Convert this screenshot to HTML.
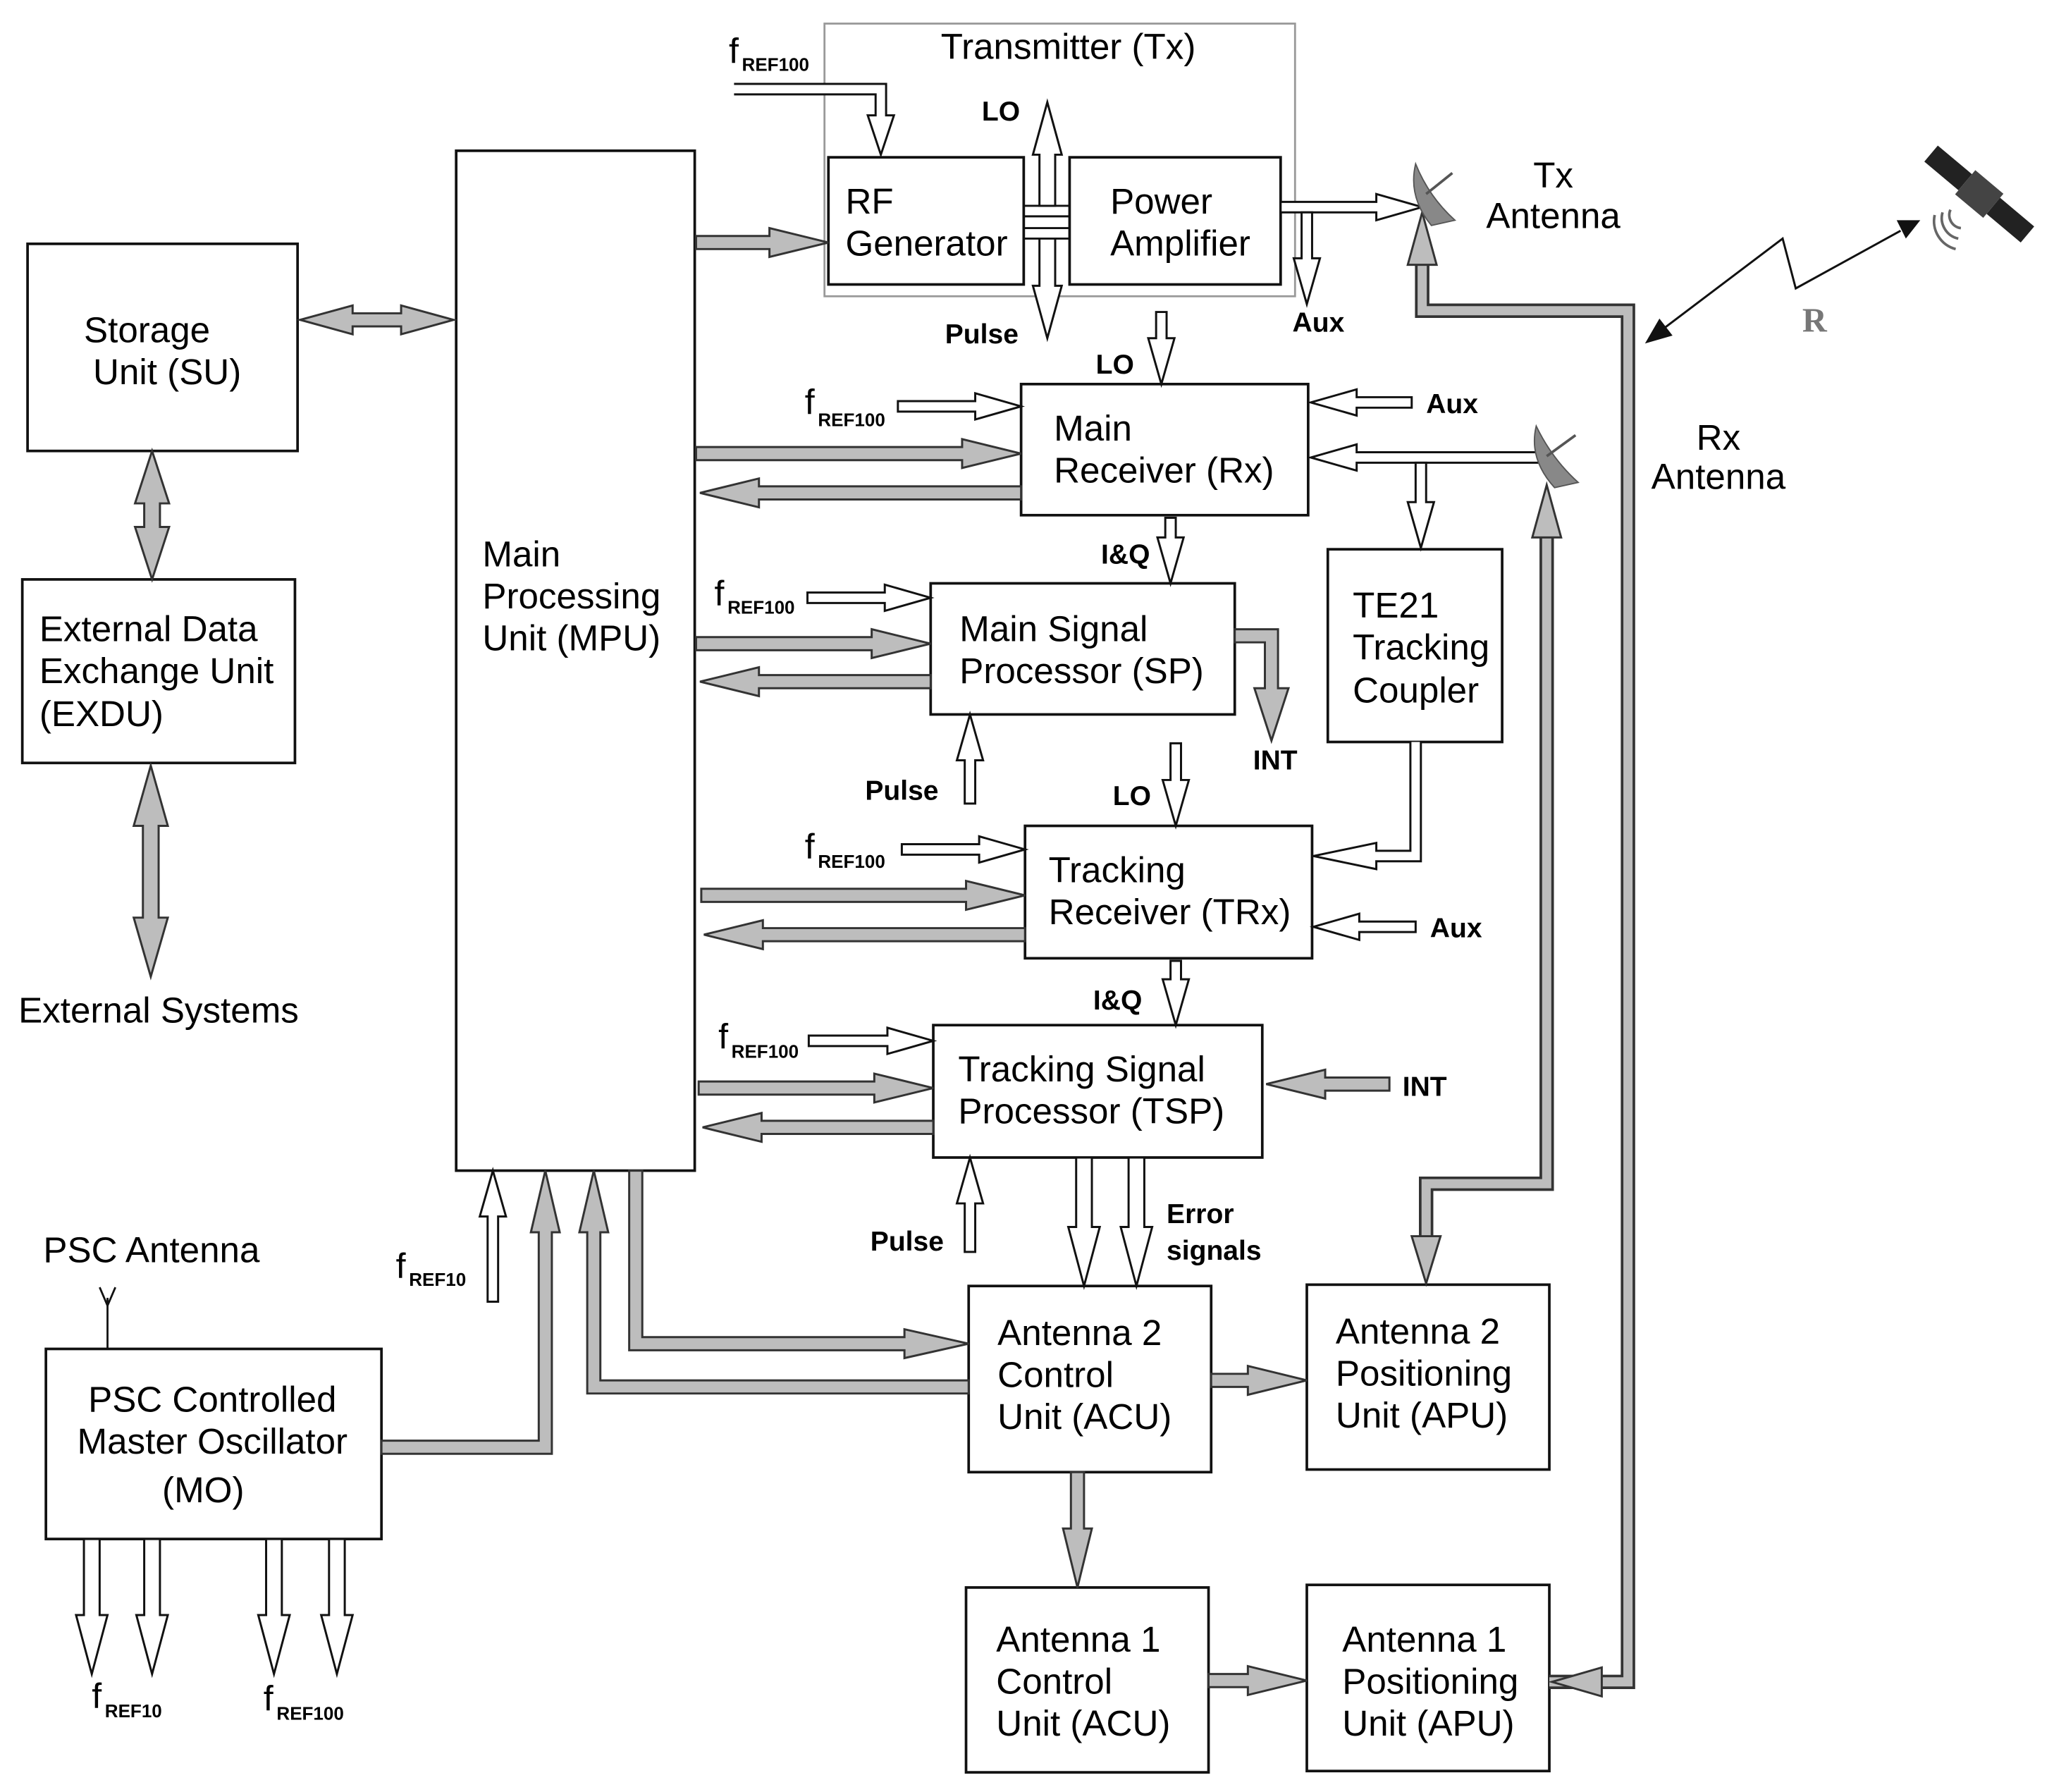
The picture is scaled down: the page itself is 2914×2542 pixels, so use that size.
<!DOCTYPE html>
<html><head><meta charset="utf-8"><style>
html,body{margin:0;padding:0;background:#fff}
svg{display:block}
text{font-family:"Liberation Sans",sans-serif;font-size:27.5px;fill:#000}
.b{font-weight:bold;font-size:21px}
.s{font-weight:bold;font-size:14px}
.f{font-size:27px}
.bx{fill:#fff;stroke:#111;stroke-width:2}
.h{fill:#fff;stroke:#111;stroke-width:1.6;stroke-linejoin:miter}
.g{fill:#bdbdbd;stroke:#333;stroke-width:1.6}
</style></head><body>
<svg width="2914" height="2542" viewBox="0 0 1567 1367" xmlns="http://www.w3.org/2000/svg">
<rect x="629" y="18" width="359" height="208" fill="none" stroke="#999" stroke-width="1.5"/>
<rect class="bx" x="632" y="120" width="149" height="97"/>
<rect class="bx" x="816" y="120" width="161" height="97"/>
<rect class="bx" x="21" y="186" width="206" height="158"/>
<rect class="bx" x="17" y="442" width="208" height="140"/>
<rect class="bx" x="348" y="115" width="182" height="778"/>
<rect class="bx" x="779" y="293" width="219" height="100"/>
<rect class="bx" x="1013" y="419" width="133" height="147"/>
<rect class="bx" x="710" y="445" width="232" height="100"/>
<rect class="bx" x="782" y="630" width="219" height="101"/>
<rect class="bx" x="712" y="782" width="251" height="101"/>
<rect class="bx" x="739" y="981" width="185" height="142"/>
<rect class="bx" x="997" y="980" width="185" height="141"/>
<rect class="bx" x="737" y="1211" width="185" height="141"/>
<rect class="bx" x="997" y="1209" width="185" height="142"/>
<rect class="bx" x="35" y="1029" width="256" height="145"/>

<polyline points="1182,1283 1242,1283 1242,237 1085,237 1085,200" fill="none" stroke="#333" stroke-width="11"/>
<polyline points="1182,1283 1242,1283 1242,237 1085,237 1085,200" fill="none" stroke="#bdbdbd" stroke-width="7"/>
<polygon class="g" points="1074,202 1096,202 1085,162"/>
<polygon class="g" points="1222,1272 1222,1294 1184,1283"/>
<polyline points="1088,945 1088,903 1180,903 1180,408" fill="none" stroke="#333" stroke-width="11"/>
<polyline points="1088,945 1088,903 1180,903 1180,408" fill="none" stroke="#bdbdbd" stroke-width="7"/>
<polygon class="g" points="1169,410 1191,410 1180,370"/>
<polygon class="g" points="1077,943 1099,943 1088,979"/>

<path class="h" d="M560,64 H676 V88 H682 L672,118 L662,88 H668 V72 H560"/>
<path class="g" transform="translate(531,185)" d="M0,-5 H56 V-11 L101,0 L56,11 V5 H0Z"/>
<line x1="781" y1="157" x2="816" y2="157" stroke="#111" stroke-width="1.6"/>
<line x1="781" y1="165" x2="816" y2="165" stroke="#111" stroke-width="1.6"/>
<line x1="781" y1="174" x2="816" y2="174" stroke="#111" stroke-width="1.6"/>
<line x1="781" y1="182" x2="816" y2="182" stroke="#111" stroke-width="1.6"/>
<path class="h" transform="translate(799,157) rotate(-90)" d="M0,-6 H39 V-11 L79,0 L39,11 V6 H0Z"/>
<path class="h" transform="translate(799,182) rotate(90)" d="M0,-6 H36 V-11 L76,0 L36,11 V6 H0Z"/>
<path class="h" transform="translate(977,158)" d="M0,-4 H73 V-10 L108,0 L73,10 V4 H0Z"/>
<path class="h" transform="translate(997,162) rotate(90)" d="M0,-4 H35 V-10 L70,0 L35,10 V4 H0Z"/>

<path class="h" transform="translate(1175,349) rotate(180)" d="M0,-4 H140 V-10 L175,0 L140,10 V4 H0Z"/>
<path class="h" transform="translate(1084,353) rotate(90)" d="M0,-4 H30 V-10 L65,0 L30,10 V4 H0Z"/>
<path class="h" transform="translate(1077,307) rotate(180)" d="M0,-4 H42 V-10 L77,0 L42,10 V4 H0Z"/>
<path class="h" transform="translate(685,310)" d="M0,-4 H59 V-10 L94,0 L59,10 V4 H0Z"/>
<path class="g" transform="translate(531,346)" d="M0,-5 H203 V-11 L248,0 L203,11 V5 H0Z"/>
<path class="g" transform="translate(779,376) rotate(180)" d="M0,-5 H200 V-11 L245,0 L200,11 V5 H0Z"/>
<path class="h" transform="translate(886,238) rotate(90)" d="M0,-4 H20 V-10 L55,0 L20,10 V4 H0Z"/>
<path class="h" transform="translate(893,395) rotate(90)" d="M0,-4 H15 V-10 L50,0 L15,10 V4 H0Z"/>

<path class="h" transform="translate(616,456)" d="M0,-4 H59 V-10 L94,0 L59,10 V4 H0Z"/>
<path class="g" transform="translate(531,491)" d="M0,-5 H134 V-11 L179,0 L134,11 V5 H0Z"/>
<path class="g" transform="translate(710,520) rotate(180)" d="M0,-5 H131 V-11 L176,0 L131,11 V5 H0Z"/>
<path class="g" d="M942,480 H975 V525 H983 L970,565 L957,525 H965 V490 H942 Z"/>
<path class="h" transform="translate(740,613) rotate(-90)" d="M0,-4 H33 V-10 L68,0 L33,10 V4 H0Z"/>
<path class="h" transform="translate(897,567) rotate(90)" d="M0,-4 H28 V-10 L63,0 L28,10 V4 H0Z"/>

<path class="h" d="M1076,566 V649 H1050 V643 L1002,653 L1050,663 V657 H1084 V566"/>
<path class="h" transform="translate(1080,707) rotate(180)" d="M0,-4 H43 V-10 L78,0 L43,10 V4 H0Z"/>
<path class="h" transform="translate(688,648)" d="M0,-4 H59 V-10 L94,0 L59,10 V4 H0Z"/>
<path class="g" transform="translate(535,683)" d="M0,-5 H202 V-11 L247,0 L202,11 V5 H0Z"/>
<path class="g" transform="translate(782,713) rotate(180)" d="M0,-5 H200 V-11 L245,0 L200,11 V5 H0Z"/>
<path class="h" transform="translate(897,733) rotate(90)" d="M0,-4 H14 V-10 L49,0 L14,10 V4 H0Z"/>

<path class="h" transform="translate(617,794)" d="M0,-4 H60 V-10 L95,0 L60,10 V4 H0Z"/>
<path class="g" transform="translate(533,830)" d="M0,-5 H134 V-11 L179,0 L134,11 V5 H0Z"/>
<path class="g" transform="translate(712,860) rotate(180)" d="M0,-5 H131 V-11 L176,0 L131,11 V5 H0Z"/>
<path class="g" transform="translate(1060,827) rotate(180)" d="M0,-5 H49 V-11 L94,0 L49,11 V5 H0Z"/>
<path class="h" transform="translate(740,955) rotate(-90)" d="M0,-4 H37 V-10 L72,0 L37,10 V4 H0Z"/>
<path class="h" transform="translate(827,883) rotate(90)" d="M0,-6 H53 V-12 L98,0 L53,12 V6 H0Z"/>
<path class="h" transform="translate(867,883) rotate(90)" d="M0,-6 H53 V-12 L98,0 L53,12 V6 H0Z"/>

<path class="g" d="M480,893 V1030 H690 V1036 L739,1025 L690,1014 V1020 H490 V893 Z"/>
<path class="g" d="M739,1053 H458 V940 H464 L453,893 L442,940 H448 V1063 H739 Z"/>
<path class="g" d="M291,1099 H411 V940 H405 L416,893 L427,940 H421 V1109 H291 Z"/>
<path class="h" transform="translate(376,993) rotate(-90)" d="M0,-4 H65 V-10 L100,0 L65,10 V4 H0Z"/>
<path class="g" transform="translate(924,1053)" d="M0,-5 H28 V-11 L73,0 L28,11 V5 H0Z"/>
<path class="g" transform="translate(822,1123) rotate(90)" d="M0,-5 H43 V-11 L88,0 L43,11 V5 H0Z"/>
<path class="g" transform="translate(922,1282)" d="M0,-5 H30 V-11 L75,0 L30,11 V5 H0Z"/>
<path class="h" transform="translate(70,1174) rotate(90)" d="M0,-6 H58 V-12 L103,0 L58,12 V6 H0Z"/>
<path class="h" transform="translate(116,1174) rotate(90)" d="M0,-6 H58 V-12 L103,0 L58,12 V6 H0Z"/>
<path class="h" transform="translate(209,1174) rotate(90)" d="M0,-6 H58 V-12 L103,0 L58,12 V6 H0Z"/>
<path class="h" transform="translate(257,1174) rotate(90)" d="M0,-6 H58 V-12 L103,0 L58,12 V6 H0Z"/>

<path class="g" d="M229,244 L269,233 V239 H306 V233 L346,244 L306,255 V249 H269 V255 Z"/>
<path class="g" d="M116,344 L103,384 H110 V402 H103 L116,442 L129,402 H122 V384 H129 Z"/>
<path class="g" d="M115,584 L102,630 H109 V700 H102 L115,745 L128,700 H121 V630 H128 Z"/>
<line x1="82" y1="990" x2="82" y2="1029" stroke="#111" stroke-width="1.5"/>
<polyline points="76,982 82,996 88,982" fill="none" stroke="#111" stroke-width="1.5"/>

<path d="M1080,125 Q1074,150 1092,172 L1110,168 Q1090,150 1080,125Z" fill="#888" stroke="#555"/>
<line x1="1088" y1="148" x2="1108" y2="132" stroke="#555" stroke-width="2"/>
<path d="M1172,325 Q1166,350 1186,372 L1204,368 Q1184,350 1172,325Z" fill="#888" stroke="#555"/>
<line x1="1180" y1="348" x2="1202" y2="332" stroke="#555" stroke-width="2"/>

<polyline points="1270,250 1360,182 1370,220 1450,176" fill="none" stroke="#111" stroke-width="1.6"/>
<polygon points="1255,262 1266,243 1276,256" fill="#111"/>
<polygon points="1465,168 1447,168 1454,182" fill="#111"/>
<text x="1375" y="253" style="font-family:'Liberation Serif',serif;font-size:26px;font-weight:bold;fill:#777">R</text>

<g transform="translate(1510,148) rotate(40)">
<rect x="-48" y="-8" width="34" height="16" fill="#222"/>
<rect x="14" y="-8" width="34" height="16" fill="#222"/>
<rect x="-14" y="-12" width="28" height="24" fill="#444"/>
</g>
<path d="M1488,160 a10,10 0 0 0 8,14 M1482,162 a16,16 0 0 0 12,20 M1476,164 a22,22 0 0 0 16,26" fill="none" stroke="#666" stroke-width="2"/>

<text x="556" y="48" class="f">f</text><text x="566" y="54" class="s">REF100</text>
<text x="815" y="45" text-anchor="middle">Transmitter (Tx)</text>
<text x="749" y="92" class="b">LO</text>
<text x="645" y="163">RF</text><text x="645" y="195">Generator</text>
<text x="847" y="163">Power</text><text x="847" y="195">Amplifier</text>
<text x="721" y="262" class="b">Pulse</text>
<text x="986" y="253" class="b">Aux</text>
<text x="1185" y="143" text-anchor="middle">Tx</text><text x="1185" y="174" text-anchor="middle">Antenna</text>
<text x="1311" y="343" text-anchor="middle">Rx</text><text x="1311" y="373" text-anchor="middle">Antenna</text>
<text x="64" y="261">Storage</text><text x="71" y="293">Unit (SU)</text>
<text x="30" y="489">External Data</text><text x="30" y="521">Exchange Unit</text><text x="30" y="554">(EXDU)</text>
<text x="14" y="780">External Systems</text>
<text x="368" y="432">Main</text><text x="368" y="464">Processing</text><text x="368" y="496">Unit (MPU)</text>
<text x="836" y="285" class="b">LO</text>
<text x="1088" y="315" class="b">Aux</text>
<text x="804" y="336">Main</text><text x="804" y="368">Receiver (Rx)</text>
<text x="840" y="430" class="b">I&amp;Q</text>
<text x="732" y="489">Main Signal</text><text x="732" y="521">Processor (SP)</text>
<text x="1032" y="471">TE21</text><text x="1032" y="503">Tracking</text><text x="1032" y="536">Coupler</text>
<text x="956" y="587" class="b">INT</text>
<text x="660" y="610" class="b">Pulse</text>
<text x="849" y="614" class="b">LO</text>
<text x="800" y="673">Tracking</text><text x="800" y="705">Receiver (TRx)</text>
<text x="1091" y="715" class="b">Aux</text>
<text x="834" y="770" class="b">I&amp;Q</text>
<text x="731" y="825">Tracking Signal</text><text x="731" y="857">Processor (TSP)</text>
<text x="1070" y="836" class="b">INT</text>
<text x="664" y="954" class="b">Pulse</text>
<text x="890" y="933" class="b">Error</text><text x="890" y="961" class="b">signals</text>
<text x="33" y="963">PSC Antenna</text>
<text x="302" y="975" class="f">f</text><text x="312" y="981" class="s">REF10</text>
<text x="162" y="1077" text-anchor="middle">PSC Controlled</text>
<text x="162" y="1109" text-anchor="middle">Master Oscillator</text>
<text x="155" y="1146" text-anchor="middle">(MO)</text>
<text x="761" y="1026">Antenna 2</text><text x="761" y="1058">Control</text><text x="761" y="1090">Unit (ACU)</text>
<text x="1019" y="1025">Antenna 2</text><text x="1019" y="1057">Positioning</text><text x="1019" y="1089">Unit (APU)</text>
<text x="760" y="1260">Antenna 1</text><text x="760" y="1292">Control</text><text x="760" y="1324">Unit (ACU)</text>
<text x="1024" y="1260">Antenna 1</text><text x="1024" y="1292">Positioning</text><text x="1024" y="1324">Unit (APU)</text>
<text x="70" y="1303" class="f">f</text><text x="80" y="1310" class="s">REF10</text>
<text x="201" y="1305" class="f">f</text><text x="211" y="1312" class="s">REF100</text>
<text x="614" y="316" class="f">f</text><text x="624" y="325" class="s">REF100</text>
<text x="545" y="462" class="f">f</text><text x="555" y="468" class="s">REF100</text>
<text x="614" y="655" class="f">f</text><text x="624" y="662" class="s">REF100</text>
<text x="548" y="800" class="f">f</text><text x="558" y="807" class="s">REF100</text>
</svg>
</body></html>
